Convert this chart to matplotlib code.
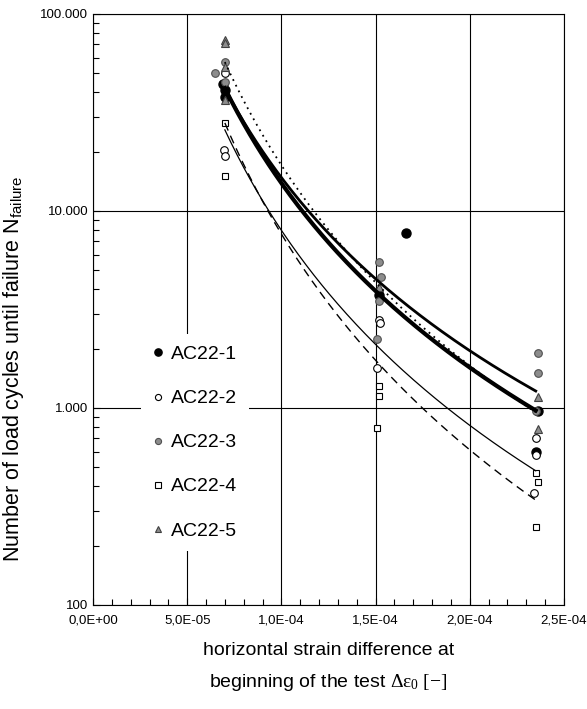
import numpy as np
import matplotlib
matplotlib.use("Agg")
import matplotlib.pyplot as plt
from matplotlib.ticker import FixedLocator, FuncFormatter, LogLocator, MultipleLocator

plt.rcParams["font.family"] = ["Liberation Sans", "DejaVu Sans"]
plt.rcParams["mathtext.fontset"] = "custom"
plt.rcParams["mathtext.rm"] = "Liberation Serif"
plt.rcParams["mathtext.it"] = "Liberation Serif:italic"
plt.rcParams["mathtext.sf"] = "Liberation Sans"

# measured fatigue results: strain difference vs. cycles to failure
ac1_x = [6.9e-5, 7.0e-5, 7.0e-5, 1.66e-4, 1.52e-4, 2.36e-4, 2.35e-4]
ac1_n = [44000, 41000, 38000, 7700, 3750, 960, 600]

ac2_x = [7.0e-5, 6.95e-5, 7.0e-5, 1.52e-4, 1.525e-4, 1.51e-4, 2.35e-4, 2.35e-4, 2.34e-4]
ac2_n = [50000, 20500, 19000, 2800, 2700, 1600, 700, 580, 370]

ac3_x = [6.5e-5, 7.0e-5, 7.0e-5, 1.52e-4, 1.53e-4, 1.52e-4, 1.51e-4, 2.36e-4, 2.36e-4, 2.35e-4]
ac3_n = [50000, 57000, 45000, 5500, 4600, 3500, 2250, 1900, 1500, 970]

ac4_x = [7.0e-5, 7.0e-5, 1.52e-4, 1.52e-4, 1.51e-4, 2.35e-4, 2.36e-4, 2.35e-4]
ac4_n = [28000, 15100, 1290, 1150, 790, 470, 420, 250]

ac5_x = [7.0e-5, 7.0e-5, 7.0e-5, 7.0e-5, 1.52e-4, 2.36e-4, 2.36e-4]
ac5_n = [74000, 71000, 53800, 36600, 4100, 1140, 780]

# power-law trend lines N = N_ref * (x / 1e-4)^b
fit_nref = [13850, 7980, 17070, 7640, 14780]
fit_exp = [-3.11, -3.29, -3.38, -3.64, -2.92]
fit_range = [7.0e-5, 2.35e-4]

labels = ["AC22-1", "AC22-2", "AC22-3", "AC22-4", "AC22-5"]

fig = plt.figure(figsize=(5.87, 7.09), dpi=100)
ax = fig.add_axes([0.1584, 0.1467, 0.8024, 0.8336])

markers = [
    dict(marker="o", mfc="black", mec="black", ms=6.5),
    dict(marker="o", mfc="white", mec="black", ms=5.5, mew=0.8),
    dict(marker="o", mfc="#8c8c8c", mec="#505050", ms=5.5, mew=0.8),
    dict(marker="s", mfc="white", mec="black", ms=5, mew=0.8),
    dict(marker="^", mfc="#8c8c8c", mec="#404040", ms=6, mew=0.8),
]
series = [(ac1_x, ac1_n), (ac2_x, ac2_n), (ac3_x, ac3_n), (ac4_x, ac4_n), (ac5_x, ac5_n)]
handles = []
for (xs, ns), st, lab in zip(series, markers, labels):
    h, = ax.plot(xs, ns, ls="none", label=lab, zorder=3, **st)
    handles.append(h)

line_styles = [
    dict(color="black", lw=3.0, ls="-"),
    dict(color="black", lw=0.9, ls="-"),
    dict(color="black", lw=1.3, ls=(0, (1, 2.5))),
    dict(color="black", lw=1.0, ls=(0, (6, 4))),
    dict(color="black", lw=2.0, ls="-"),
]
xf = np.linspace(fit_range[0], fit_range[1], 200)
for nref, b, st in zip(fit_nref, fit_exp, line_styles):
    ax.plot(xf, nref * (xf / 1e-4) ** b, zorder=4, **st)

ax.set_yscale("log")
ax.set_xlim(0, 2.5e-4)
ax.set_ylim(100, 100000)

ax.xaxis.set_major_locator(MultipleLocator(5e-5))
ax.xaxis.set_minor_locator(MultipleLocator(1e-5))
ax.xaxis.set_major_formatter(FuncFormatter(lambda v, p: f"{v:.1E}".replace(".", ",")))
ax.yaxis.set_major_locator(FixedLocator([100, 1000, 10000, 100000]))
ax.yaxis.set_minor_locator(LogLocator(base=10, subs=np.arange(2, 10)))
ax.yaxis.set_major_formatter(FuncFormatter(lambda v, p: f"{int(round(v)):,}".replace(",", ".")))
ax.yaxis.set_minor_formatter(FuncFormatter(lambda v, p: ""))

ax.tick_params(which="both", direction="in", top=False, right=False, labelsize=9.5, colors="black")
ax.tick_params(which="major", length=5, width=0.8)
ax.tick_params(which="minor", length=4, width=0.8)
ax.tick_params(axis="x", pad=7)

ax.grid(True, which="major", color="black", lw=0.8)
ax.set_axisbelow(True)
for s in ax.spines.values():
    s.set_color("black")
    s.set_linewidth(0.8)

ax.set_ylabel(r"Number of load cycles until failure N$_{\mathsf{failure}}$", fontsize=15.5)
ax.yaxis.set_label_coords(-0.143, 0.40)
ax.set_xlabel("horizontal strain difference at\n"
              r"beginning of the test $\mathrm{\Delta\varepsilon_0\ [-]}$",
              fontsize=14, linespacing=1.9, labelpad=11)

leg = ax.legend(handles=handles, loc="upper left", bbox_to_anchor=(0.101, 0.4585),
                borderaxespad=0, fontsize=14, frameon=True, framealpha=1,
                facecolor="white", edgecolor="none", fancybox=False,
                handlelength=0.6, handletextpad=0.35, labelspacing=1.36,
                borderpad=0.6, markerscale=0.8)
leg.set_zorder(5)

fig.savefig("out.png", dpi=100)
